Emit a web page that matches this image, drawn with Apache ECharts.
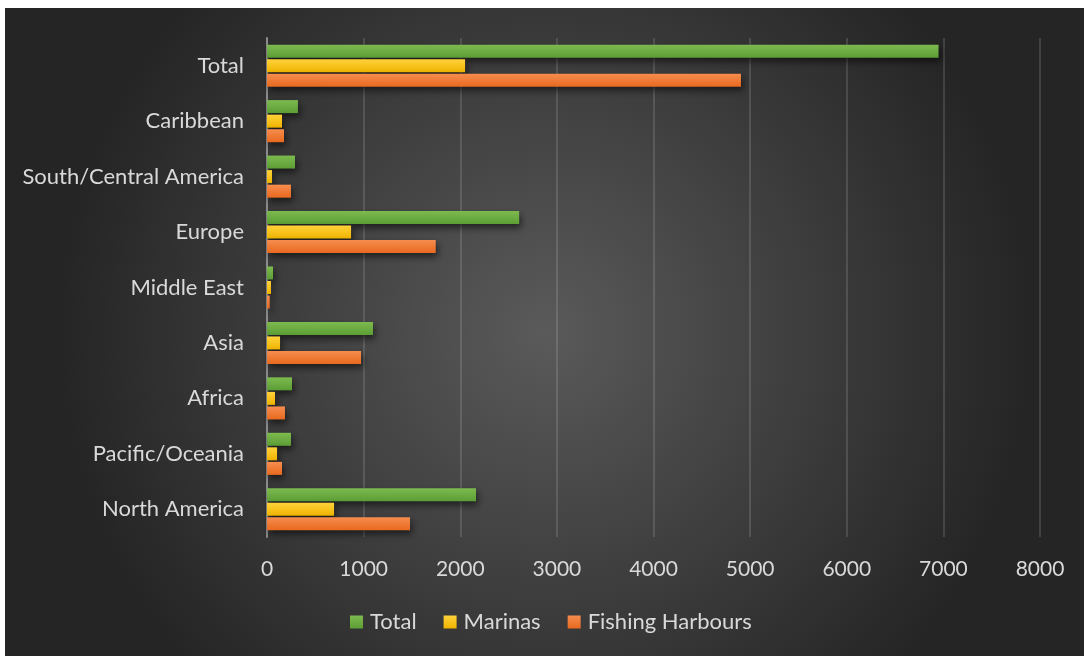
<!DOCTYPE html>
<html><head><meta charset="utf-8">
<script src="https://cdn.jsdelivr.net/npm/echarts@6/dist/echarts.min.js"></script>
<style>html,body{margin:0;padding:0;background:#fff}#c{width:1084px;height:656px}</style>
</head><body><div id="c"></div>
<script>
const categories = ['Total','Caribbean','South/Central America','Europe','Middle East','Asia','Africa','Pacific/Oceania','North America'];
const totalValues = [6950, 320, 290, 2610, 62, 1097, 259, 248, 2163];
const marinasValues = [2050, 155, 52, 870, 41, 135, 83, 104, 694];
const fishingValues = [4905, 176, 248, 1746, 28, 973, 186, 155, 1480];
const xTicks = {min: 0, max: 8000, interval: 1000};

const FONT = 'Lato';
function grad(top, bottom){
  return new echarts.graphic.LinearGradient(0,0,0,1,[{offset:0,color:top},{offset:1,color:bottom}]);
}
const barShadow = {shadowBlur: 7, shadowOffsetX: 2, shadowOffsetY: 4, shadowColor: 'rgba(0,0,0,0.55)'};
const chart = echarts.init(document.getElementById('c'), null, {renderer:'canvas'});
chart.setOption({
  backgroundColor: '#ffffff',
  animation: false,
  graphic: [{
    type: 'rect', z: -10, silent: true,
    shape: {x: 5, y: 8, width: 1079, height: 648},
    style: {fill: new echarts.graphic.RadialGradient(0.5, 0.5, 0.75, [
      {offset: 0, color: '#5a5a5a'}, {offset: 1, color: '#252525'}])}
  }],
  grid: {left: 267, right: 44, top: 38, bottom: 119, containLabel: false},
  legend: {
    bottom: 18, left: 345,
    icon: 'rect', itemWidth: 13, itemHeight: 13, itemGap: 27,
    textStyle: {color: '#d9d9d9', fontFamily: FONT, fontSize: 22, padding: [0,0,0,2]},
    data: ['Total','Marinas','Fishing Harbours']
  },
  xAxis: {
    type: 'value', min: xTicks.min, max: xTicks.max, interval: xTicks.interval,
    axisLine: {show: false}, axisTick: {show: false},
    axisLabel: {color: '#d9d9d9', fontFamily: FONT, fontSize: 21, margin: 22,
      formatter: function(v){ return String(v); }},
    splitLine: {lineStyle: {color: 'rgba(255,255,255,0.13)', width: 2}}
  },
  yAxis: {
    type: 'category', data: categories, inverse: true,
    axisLine: {show: true, lineStyle: {color: '#8c8c8c', width: 2}},
    axisTick: {show: false},
    axisLabel: {color: '#d9d9d9', fontFamily: FONT, fontSize: 22, margin: 23}
  },
  series: [
    {name: 'Total', type: 'bar', data: totalValues, barWidth: 13, barGap: '12%',
     itemStyle: Object.assign({color: grad('#7dba4f','#5c9e35')}, barShadow)},
    {name: 'Marinas', type: 'bar', data: marinasValues, barWidth: 13, barGap: '12%',
     itemStyle: Object.assign({color: grad('#ffd23a','#f0b400')}, barShadow)},
    {name: 'Fishing Harbours', type: 'bar', data: fishingValues, barWidth: 13, barGap: '12%',
     itemStyle: Object.assign({color: grad('#f68d4e','#e8691f')}, barShadow)}
  ]
});
</script></body></html>
